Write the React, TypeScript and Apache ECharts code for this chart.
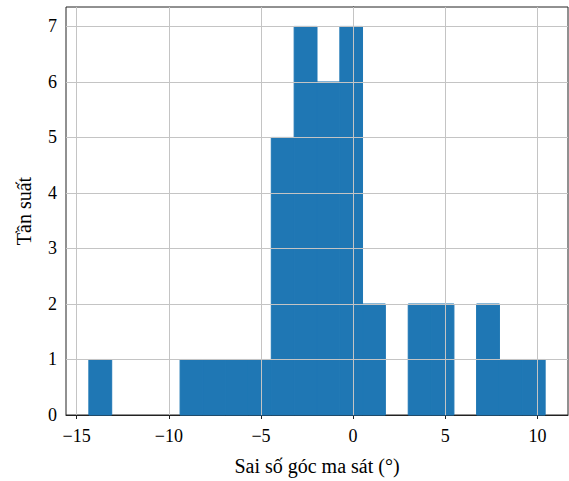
import React, { useEffect, useRef } from "react";
import * as echarts from "echarts";

const binEdges = [-14.34, -13.10, -11.86, -10.63, -9.39, -8.15, -6.91, -5.68, -4.44, -3.20, -1.96, -0.72, 0.51, 1.75, 2.99, 4.23, 5.47, 6.70, 7.94, 9.18, 10.42];
const counts = [1, 0, 0, 0, 1, 1, 1, 1, 5, 7, 6, 7, 2, 0, 2, 2, 0, 2, 1, 1];
const xTicks = [-15, -10, -5, 0, 5, 10];
const yTicks = [0, 1, 2, 3, 4, 5, 6, 7];

const FONT = "'Liberation Serif', 'DejaVu Serif', serif";

export default function App() {
  const ref = useRef<HTMLDivElement>(null);
  useEffect(() => {
    document.body.style.margin = "0";
    if (!ref.current) return;
    const chart = echarts.init(ref.current, null, { renderer: "svg" });
    const data = counts.map((c, i) => [binEdges[i], binEdges[i + 1], c]);
    const gridColor = "#c4c4c4";
    const fmt = (v: number) => String(v).replace("-", "\u2212");
    chart.setOption({
      animation: false,
      grid: {
        left: 66,
        right: 1,
        top: 7,
        bottom: 66,
        show: true,
        borderColor: "#222",
        borderWidth: 1,
        backgroundColor: "transparent",
      },
      xAxis: {
        type: "value",
        min: -15.58,
        max: 11.66,
        name: "Sai số góc ma sát (°)",
        nameLocation: "middle",
        nameGap: 41,
        nameTextStyle: { fontFamily: FONT, fontSize: 20, color: "#000" },
        axisLine: { show: true, onZero: false, lineStyle: { color: "#222", width: 1 } },
        axisTick: { show: true, customValues: xTicks, length: 4, lineStyle: { color: "#222" } },
        axisLabel: { customValues: xTicks, formatter: fmt, fontFamily: FONT, fontSize: 18, color: "#000", margin: 12 },
        splitLine: { show: false },
      },
      yAxis: {
        type: "value",
        min: 0,
        max: 7.35,
        interval: 1,
        name: "Tần suất",
        nameLocation: "middle",
        nameGap: 32,
        nameTextStyle: { fontFamily: FONT, fontSize: 20, color: "#000" },
        axisLine: { show: true, lineStyle: { color: "#222", width: 1 } },
        axisTick: { show: true, length: 4, lineStyle: { color: "#222" } },
        axisLabel: { fontFamily: FONT, fontSize: 18, color: "#000", margin: 9, showMaxLabel: false },
        splitLine: { show: false },
      },
      series: [
        {
          type: "custom",
          data,
          encode: { x: [0, 1], y: 2 },
          renderItem: (params: any, api: any) => {
            const x0 = api.value(0);
            const x1 = api.value(1);
            const h = api.value(2);
            if (!h) return null;
            const p0 = api.coord([x0, h]);
            const p1 = api.coord([x1, 0]);
            return {
              type: "rect",
              shape: { x: p0[0], y: p0[1], width: p1[0] - p0[0], height: p1[1] - p0[1] },
              style: { fill: "#1f77b4", stroke: "#1f77b4", lineWidth: 1 },
            };
          },
          markLine: {
            silent: true,
            symbol: "none",
            label: { show: false },
            lineStyle: { color: gridColor, width: 1, type: "solid" },
            data: [
              ...xTicks.map((v) => ({ xAxis: v })),
              ...yTicks.filter((v) => v > 0).map((v) => ({ yAxis: v })),
            ],
          },
        },
      ],
    });
    return () => chart.dispose();
  }, []);
  return <div ref={ref} style={{ width: 569, height: 481 }} />;
}
